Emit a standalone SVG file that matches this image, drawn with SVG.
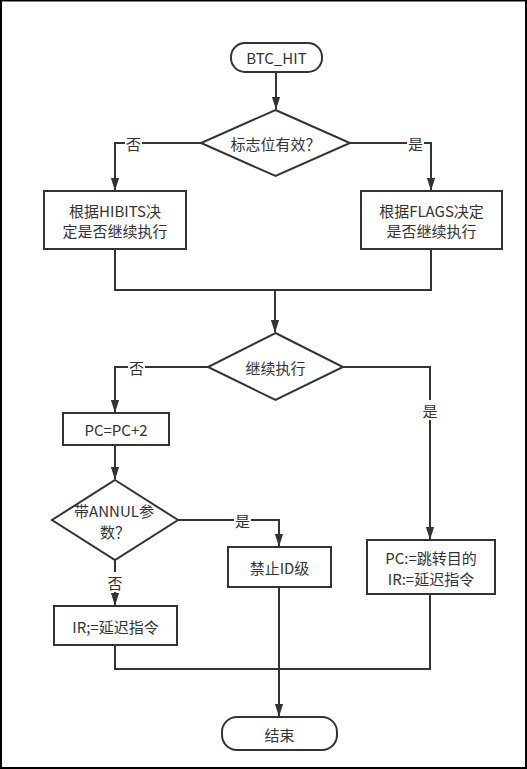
<svg xmlns="http://www.w3.org/2000/svg" width="527" height="769" viewBox="0 0 527 769">
<style>
.n{fill:#fff;stroke:#333;stroke-width:2}
.c{fill:none;stroke:#333;stroke-width:2}
text{font-family:"Microsoft YaHei","Noto Sans CJK SC","Noto Sans",sans-serif;font-size:15px;fill:#333;text-anchor:middle;dominant-baseline:central}
.lb{fill:#fff;stroke:none}
</style>
<defs>
<marker id="ah" markerWidth="13" markerHeight="20" refX="19" refY="6.5" orient="auto" markerUnits="userSpaceOnUse" viewBox="0 0 20 13">
<path d="M0,0 L20,6.5 L0,13 z" fill="#333"/>
</marker>
</defs>
<rect x="0" y="0" width="527" height="769" fill="#fff"/>
<rect x="1" y="0.5" width="525" height="767.5" fill="none" stroke="#000" stroke-width="2"/>
<g id="connectors">
<path class="c" d="M276,72 V109" marker-end="url(#ah)"/>
<path class="c" d="M201,143 H115 V190" marker-end="url(#ah)"/>
<path class="c" d="M350,143 H431 V190" marker-end="url(#ah)"/>
<path class="c" d="M115,249 V290 H431 V249"/>
<path class="c" d="M275,290 V332" marker-end="url(#ah)"/>
<path class="c" d="M208,367 H115 V412" marker-end="url(#ah)"/>
<path class="c" d="M343,367 H430 V539" marker-end="url(#ah)"/>
<path class="c" d="M115,445 V479" marker-end="url(#ah)"/>
<path class="c" d="M178,520 H279 V546" marker-end="url(#ah)"/>
<path class="c" d="M115,560 V605" marker-end="url(#ah)"/>
<path class="c" d="M115,645 V669 H430 V594"/>
<path class="c" d="M279,587 V716" marker-end="url(#ah)"/>
<rect class="lb" x="125" y="134" width="17" height="18"/>
<text x="133.5" y="143">否</text>
<rect class="lb" x="407" y="134" width="17" height="18"/>
<text x="415.5" y="143">是</text>
<rect class="lb" x="128" y="358" width="17" height="18"/>
<text x="136.5" y="367">否</text>
<rect class="lb" x="421" y="400" width="17" height="20"/>
<text x="430" y="410">是</text>
<rect class="lb" x="234" y="511" width="17" height="18"/>
<text x="242.5" y="520">是</text>
<rect class="lb" x="106" y="572" width="17" height="20"/>
<text x="115" y="582">否</text>
</g>
<g id="start">
<rect class="n" x="231" y="43" width="91" height="29" rx="14" ry="14"/>
<text x="276.5" y="57.5">BTC_HIT</text>
</g>
<g id="flagValid">
<polygon class="n" points="275.5,110 350,143 275.5,176 201,143"/>
<text x="275.5" y="143">标志位有效？</text>
</g>
<g id="hibits">
<rect class="n" x="44" y="191" width="142" height="58"/>
<text x="115" y="210.5">根据HIBITS决</text>
<text x="115" y="230.5">定是否继续执行</text>
</g>
<g id="flags">
<rect class="n" x="361" y="191" width="141" height="58"/>
<text x="431.5" y="210.5">根据FLAGS决定</text>
<text x="431.5" y="230.5">是否继续执行</text>
</g>
<g id="continue">
<polygon class="n" points="275.5,333 343,367 275.5,400 208,367"/>
<text x="275.5" y="367">继续执行</text>
</g>
<g id="pcInc">
<rect class="n" x="63" y="413" width="106" height="32"/>
<text x="116" y="429">PC=PC+2</text>
</g>
<g id="annul">
<polygon class="n" points="115,480 178,520 115,560 52,520"/>
<text x="114" y="510.5">带ANNUL参</text>
<text x="115" y="531">数？</text>
</g>
<g id="disableId">
<rect class="n" x="228" y="547" width="103" height="40"/>
<text x="279.5" y="567">禁止ID级</text>
</g>
<g id="irDelay">
<rect class="n" x="54" y="606" width="123" height="39"/>
<text x="115.5" y="626">IR;=延迟指令</text>
</g>
<g id="jump">
<rect class="n" x="367" y="540" width="128" height="54"/>
<text x="431" y="557">PC:=跳转目的</text>
<text x="431" y="578">IR:=延迟指令</text>
</g>
<g id="end">
<rect class="n" x="222" y="717" width="115" height="33" rx="15" ry="15"/>
<text x="279.5" y="734">结束</text>
</g>
</svg>
